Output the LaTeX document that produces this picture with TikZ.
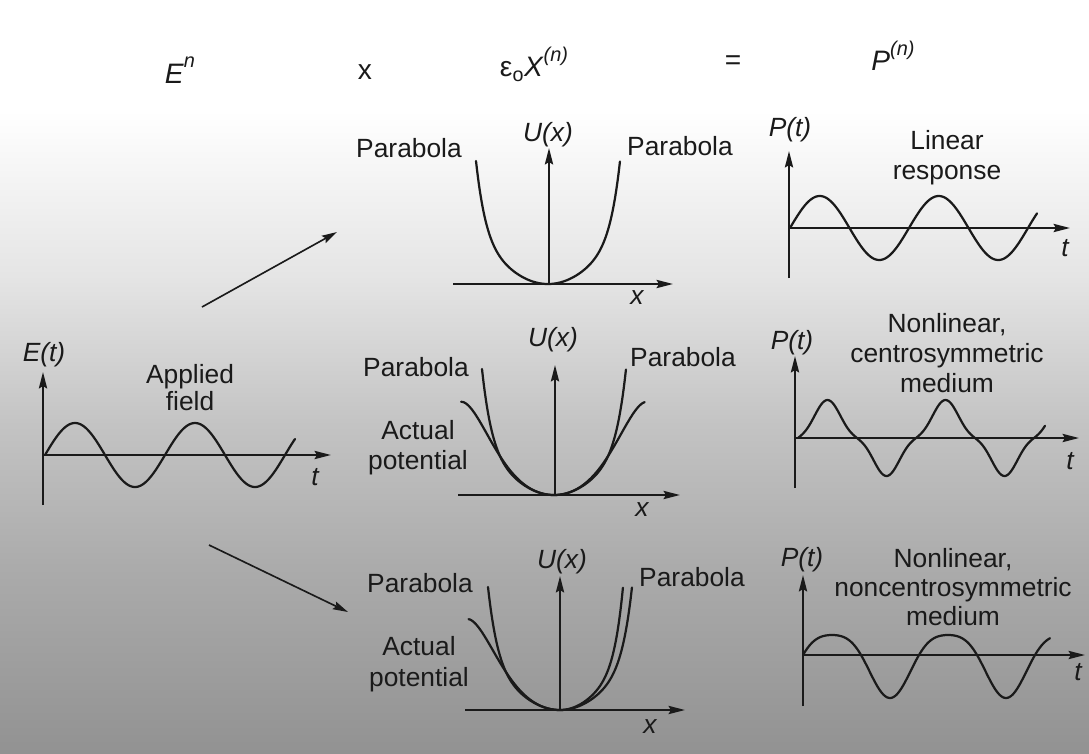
\documentclass[tikz,border=0pt]{standalone}
\usepackage{fontspec}
\setmainfont{Liberation Sans}
\usetikzlibrary{arrows.meta}
\definecolor{ink}{HTML}{1A1A1A}
\definecolor{bgA}{HTML}{E4E4E4}
\definecolor{bgB}{HTML}{C4C4C4}
\definecolor{bgC}{HTML}{ACACAC}
\definecolor{bgD}{HTML}{929292}
\tikzset{
  txt/.style={text=ink, inner sep=0pt, align=center, font=\fontsize{22.5}{25.5}\selectfont},
  itl/.style={text=ink, inner sep=0pt, align=center, font=\fontsize{22.5}{25.5}\selectfont\itshape},
  head/.style={text=ink, inner sep=0pt, font=\fontsize{24}{26}\selectfont},
  axis/.style={draw=ink, line width=1.8pt, -{Stealth[length=14pt,width=7pt,inset=2pt]}},
  curve/.style={draw=ink, line width=1.9pt, line cap=round},
  flow/.style={draw=ink, line width=1.4pt, -{Stealth[length=13pt,width=7pt,inset=2pt]}}
}
\newcommand{\bigsup}[1]{\raisebox{0.55em}{\fontsize{17}{17}\selectfont #1}}
\begin{document}
\begin{tikzpicture}[x=0.03cm,y=-0.03cm,
  declare function={
    pb(\u)=0.45*\u*\u+0.55*(\u*\u)^4;
    ac(\u)=0.45*\u*\u+0.2642*(\u*\u)^2-0.1607*(\u*\u)^3;
    sA(\t)=sin(\t*3.0508);
    cw(\t)=(sA(\t)+1.5*sA(\t)*sA(\t)*sA(\t))/2.5;
    sB(\t)=sin(\t*3.1034);
  }]
\useasboundingbox (0,0) rectangle (1089,753);
% background
\fill[white] (0,0) rectangle (1089,111);
\shade[top color=white, bottom color=bgA] (0,110) rectangle (1089,281);
\shade[top color=bgA, bottom color=bgB] (0,280) rectangle (1089,421);
\shade[top color=bgB, bottom color=bgC] (0,420) rectangle (1089,561);
\shade[top color=bgC, bottom color=bgD] (0,560) rectangle (1089,753);

% header
\node[head] (hE) at (180,70) {\textit{E}\bigsup{\textit{n}}};
\node[head] (hx) at (365,72) {x};
\node[head] (hchi) at (534,64) {ε\textsubscript{o}\textit{X}\bigsup{\textit{(n)}}};
\node[head] (heq) at (733,63) {=};
\node[head] (hP) at (893,56) {\textit{P}\bigsup{\textit{(n)}}};

% ---- applied field panel
\coordinate (eo) at (43,455);
\coordinate (eyb) at (43,505);
\coordinate (eyt) at (43,372);
\coordinate (ext) at (331,455);
\draw[axis] (eyb) -- (eyt);
\draw[axis] (eo) -- (ext);
\draw[curve] plot[domain=0:250,samples=160,smooth] ({45+\x},{455-32*sin(3*\x)});
\node[itl] (lE) at (44,355) {E(t)};
\node[txt, font=\fontsize{22.5}{23}\selectfont] (lapp) at (190,388) {Applied\\field};
\node[itl] (lEt) at (315,477) {t};

% flow arrows
\coordinate (f1s) at (202,307);
\coordinate (f1e) at (337,232);
\coordinate (f2s) at (209,545);
\coordinate (f2e) at (348,612);
\draw[flow] (f1s) -- (f1e);
\draw[flow] (f2s) -- (f2e);

% ---- potential panel 1
\coordinate (u1o) at (549,284);
\coordinate (u1t) at (549,148);
\coordinate (u1l) at (453,284);
\coordinate (u1r) at (673,284);
\draw[axis] (u1l) -- (u1r);
\draw[axis] (u1o) -- (u1t);
\draw[curve] plot[domain=-1:1,samples=120,smooth] ({548+72*\x},{284-123*pb(\x)});
\node[itl] (lU1) at (548,135) {U(x)};
\node[itl] (lx1) at (637,298) {x};
\node[txt] (pL1) at (409,148) {Parabola};
\node[txt] (pR1) at (680,146) {Parabola};

% ---- potential panel 2
\coordinate (u2o) at (555,495);
\coordinate (u2t) at (555,365);
\coordinate (u2l) at (458,495);
\coordinate (u2r) at (680,495);
\draw[axis] (u2l) -- (u2r);
\draw[axis] (u2o) -- (u2t);
\draw[curve] plot[domain=-1:1,samples=120,smooth] ({554+72*\x},{495-126*pb(\x)});
\draw[curve] plot[domain=-1.29:1.26,samples=120,smooth] ({554+72*\x},{495-126*ac(\x)});
\node[itl] (lU2) at (553,340) {U(x)};
\node[itl] (lx2) at (642,510) {x};
\node[txt] (pL2) at (416,367) {Parabola};
\node[txt] (pR2) at (683,357) {Parabola};
\node[txt] (ap2) at (418,448) {Actual\\potential};

% ---- potential panel 3
\coordinate (u3o) at (560,710);
\coordinate (u3t) at (560,576);
\coordinate (u3l) at (465,710);
\coordinate (u3r) at (685,710);
\draw[axis] (u3l) -- (u3r);
\draw[axis] (u3o) -- (u3t);
\draw[curve] plot[domain=-1.0:1.0,samples=120,smooth] ({560+72*\x},{710-123*pb(\x)});
\draw[curve] plot[domain=-1.27:0,samples=80,smooth] ({560+72*\x},{710-123*ac(\x)})
  -- plot[domain=0:0.875,samples=80,smooth] ({560+72*\x},{710-123*pb(1.143*\x)});
\node[itl] (lU3) at (562,562) {U(x)};
\node[itl] (lx3) at (650,727) {x};
\node[txt] (pL3) at (420,583) {Parabola};
\node[txt] (pR3) at (692,577) {Parabola};
\node[txt, font=\fontsize{22.5}{27}\selectfont] (ap3) at (419,664) {Actual\\potential};

% ---- linear response
\coordinate (p1o) at (789,228);
\coordinate (p1b) at (789,278);
\coordinate (p1t) at (789,151);
\coordinate (p1r) at (1070,228);
\draw[axis] (p1b) -- (p1t);
\draw[axis] (p1o) -- (p1r);
\draw[curve] plot[domain=0:247,samples=160,smooth] ({790+\x},{228-32*sin(\x*3.0252)});
\node[itl] (lP1) at (790,130) {P(t)};
\node[itl] (lt1) at (1065,248) {t};
\node[txt] (d1) at (947,158) {Linear\\response};

% ---- centrosymmetric
\coordinate (p2o) at (795,438);
\coordinate (p2b) at (795,488);
\coordinate (p2t) at (795,356);
\coordinate (p2r) at (1079,438);
\draw[axis] (p2b) -- (p2t);
\draw[axis] (p2o) -- (p2r);
\draw[curve] plot[domain=0:247,samples=200,smooth] ({798+\x},{438-38*cw(\x)});
\node[itl] (lP2) at (792,343) {P(t)};
\node[itl] (lt2) at (1070,461) {t};
\node[txt] (d2) at (947,353) {Nonlinear,\\centrosymmetric\\medium};

% ---- noncentrosymmetric
\coordinate (p3o) at (803,655);
\coordinate (p3b) at (803,706);
\coordinate (p3t) at (803,575);
\coordinate (p3r) at (1085,655);
\draw[axis] (p3b) -- (p3t);
\draw[axis] (p3o) -- (p3r);
\draw[curve] plot[domain=0:247,samples=200,smooth] ({803+\x},{655-31.5*sB(\x)+11.5*sB(\x)*sB(\x)});
\node[itl] (lP3) at (802,560) {P(t)};
\node[itl] (lt3) at (1078,672) {t};
\node[txt, font=\fontsize{22.5}{24.5}\selectfont] (d3) at (953,587) {Nonlinear,\\noncentrosymmetric\\medium};
\end{tikzpicture}
\end{document}
